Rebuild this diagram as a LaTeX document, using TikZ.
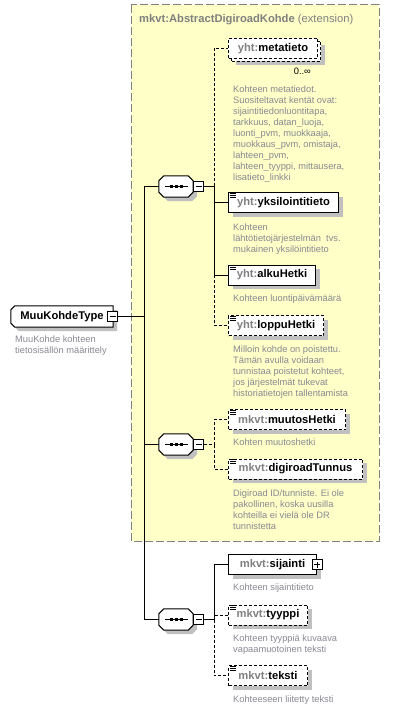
\documentclass[tikz,border=0pt]{standalone}
\usepackage{fontspec}
\setmainfont{Liberation Sans}
\usetikzlibrary{positioning}
\usetikzlibrary{shadows}

\pgfdeclarelayer{bg}
\pgfdeclarelayer{frames}
\pgfsetlayers{bg,frames,main}

\definecolor{extfill}{RGB}{255,255,200}
\definecolor{extline}{RGB}{128,128,128}
\definecolor{pfxgray}{RGB}{128,128,128}
\definecolor{docgray}{RGB}{136,136,146}
\definecolor{shadowgray}{RGB}{192,192,192}

\newcommand{\namefont}{\fontsize{11.2}{13}\selectfont\bfseries}
\newcommand{\docfont}{\fontsize{9.3}{11}\selectfont}
\newcommand{\pfx}[1]{{\color{pfxgray}#1}}

\tikzstyle{boxshadow} = [drop shadow={shadow xshift=4pt, shadow yshift=-4pt, fill=shadowgray, opacity=1}]
\tikzstyle{elbox} = [draw, fill=white, anchor=west, line width=1pt, minimum height=20pt, inner xsep=6pt, inner ysep=0pt, font=\namefont]
\tikzstyle{elnode} = [elbox, boxshadow]
\tikzstyle{optbox} = [elbox, dash pattern=on 3pt off 2pt]
\tikzstyle{optnode} = [elnode, dash pattern=on 3pt off 2pt]
\tikzstyle{typenode} = [minimum width=102pt, minimum height=21pt, inner sep=0pt, font=\namefont]
\tikzstyle{seqnode} = [minimum width=34pt, minimum height=21pt, inner sep=0pt]
\tikzstyle{minusbox} = [draw, fill=white, line width=1pt, minimum size=10pt, inner sep=0pt,
  path picture={\draw[line width=0.8pt] ([xshift=2pt]path picture bounding box.west) -- ([xshift=-2pt]path picture bounding box.east);}]
\tikzstyle{plusbox} = [draw, fill=white, line width=1pt, minimum size=10pt, inner sep=0pt,
  path picture={\draw[line width=0.8pt] ([xshift=2pt]path picture bounding box.west) -- ([xshift=-2pt]path picture bounding box.east);
    \draw[line width=0.8pt] ([yshift=2pt]path picture bounding box.south) -- ([yshift=-2pt]path picture bounding box.north);}]
\tikzstyle{docnode} = [anchor=north west, inner sep=0pt, align=left, font=\docfont, text=docgray]
\tikzstyle{link} = [line width=1pt]
\tikzstyle{optlink} = [link, dash pattern=on 3pt off 2pt]

% outlines round a node, shifted by #2 (for the shadow)
\tikzset{
  seqoutline/.style 2 args={insert path={
    ([shift={(5+#2,#2)}]#1.north west) -- ([shift={(-5+#2,#2)}]#1.north east) --
    ([shift={(#2,5+#2)}]#1.north east) -- ([shift={(#2,-5+#2)}]#1.south east) --
    ([shift={(-5+#2,#2)}]#1.south east) -- ([shift={(5+#2,#2)}]#1.south west) --
    ([shift={(#2,-5+#2)}]#1.south west) -- ([shift={(#2,5+#2)}]#1.north west) -- cycle}},
  typeoutline/.style 2 args={insert path={
    ([shift={(4+#2,#2)}]#1.north west) -- ([shift={(#2,#2)}]#1.north east) --
    ([shift={(#2,#2)}]#1.south east) -- ([shift={(4+#2,#2)}]#1.south west) --
    ([shift={(#2,-4+#2)}]#1.south west) -- ([shift={(#2,4+#2)}]#1.north west) -- cycle}},
}

\begin{document}
\begin{tikzpicture}[x=1pt, y=-1pt]
  \useasboundingbox (0,0) rectangle (403,708);

  % extension base
  \begin{pgfonlayer}{bg}
    \draw[extline, fill=extfill, line width=1pt, dash pattern=on 8pt off 3pt] (131,5) rectangle (379,541);
  \end{pgfonlayer}
  \node[anchor=base west, inner sep=0pt, font=\namefont, text=pfxgray] (exttitle) at (139,23) {mkvt:AbstractDigiroadKohde \textmd{(extension)}};

  % type
  \node[typenode] (muu) at (62,316.5) {MuuKohdeType\hspace{10pt}};
  \begin{pgfonlayer}{frames}
    \fill[shadowgray, typeoutline={muu}{4}];
    \draw[line width=1pt, fill=white, typeoutline={muu}{0}];
  \end{pgfonlayer}
  \node[minusbox] (muum) at ([xshift=-0.5pt]muu.east) {};
  \node[docnode] (muudoc) at (15,335.2) {MuuKohde kohteen\\tietosisällön määrittely};

  % sequences
  \node[seqnode] (seqa) at (176,186.5) {};
  \node[minusbox, right=0pt of seqa] (seqam) {};
  \node[seqnode] (seqb) at (176,444.5) {};
  \node[minusbox, right=0pt of seqb] (seqbm) {};
  \node[seqnode] (seqc) at (176,619.5) {};
  \node[minusbox, right=0pt of seqc] (seqcm) {};
  \foreach \s in {seqa,seqb,seqc} {
    \begin{pgfonlayer}{frames}
      \fill[shadowgray, seqoutline={\s}{4}];
      \draw[line width=1pt, fill=white, seqoutline={\s}{0}];
    \end{pgfonlayer}
    \draw[link] ([xshift=6pt]\s.west) -- ([xshift=-5pt]\s.east);
    \foreach \d in {-5,0,5}
      \fill ([shift={(\d-1.5,-1.5)}]\s.center) rectangle ++(3,3);
  }

  % elements of the first sequence
  \node[optnode, minimum width=89pt] (metab) at (231,51.5) {\phantom{\pfx{yht:}metatieto}};
  \node[optbox, minimum width=89pt] (meta) at (228,48.5) {\pfx{yht:}metatieto};
  \node[anchor=base east, inner sep=0pt, font=\docfont] (metaocc) at (311,75) {0..∞};
  \node[docnode] (metadoc) at (233,85.2) {Kohteen metatiedot.\\Suositeltavat kentät ovat:\\sijaintitiedonluontitapa,\\tarkkuus, datan\_luoja,\\luonti\_pvm, muokkaaja,\\muokkaus\_pvm, omistaja,\\lahteen\_pvm,\\lahteen\_tyyppi, mittausera,\\lisatieto\_linkki};

  \node[elnode, minimum width=110pt] (yks) at (228,203) {\pfx{yht:}yksilointitieto};
  \node[docnode] (yksdoc) at (233,223.2) {Kohteen\\lähtötietojärjestelmän~ tvs.\\mukainen yksilöintitieto};

  \node[elnode, minimum width=87pt] (alku) at (228,275) {\pfx{yht:}alkuHetki};
  \node[docnode] (alkudoc) at (233,294.2) {Kohteen luontipäivämäärä};

  \node[optnode, minimum width=95pt] (loppu) at (228,325.5) {\pfx{yht:}loppuHetki};
  \node[docnode] (loppudoc) at (233,345.2) {Milloin kohde on poistettu.\\Tämän avulla voidaan\\tunnistaa poistetut kohteet,\\jos järjestelmät tukevat\\historiatietojen tallentamista};

  % elements of the second sequence
  \node[optnode, minimum width=117pt] (muutos) at (228,419.5) {\pfx{mkvt:}muutosHetki};
  \node[docnode] (muutosdoc) at (233,438.2) {Kohten muutoshetki};

  \node[optnode, minimum width=134pt] (digi) at (228,469) {\pfx{mkvt:}digiroadTunnus};
  \node[docnode] (digidoc) at (233,489.2) {Digiroad ID/tunniste. Ei ole\\pakollinen, koska uusilla\\kohteilla ei vielä ole DR\\tunnistetta};

  % elements of the third sequence
  \node[elnode, minimum width=88pt] (sij) at (228,564.5) {\pfx{mkvt:}sijainti\hspace{6pt}};
  \node[plusbox] (sijp) at (sij.east) {};
  \node[docnode] (sijdoc) at (233,583.2) {Kohteen sijaintitieto};

  \node[optnode, minimum width=79pt] (tyyppi) at (228,615) {\pfx{mkvt:}tyyppi};
  \node[docnode] (tyyppidoc) at (233,634.2) {Kohteen tyyppiä kuvaava\\vapaamuotoinen teksti};

  \node[optnode, minimum width=79pt] (teksti) at (228,675.5) {\pfx{mkvt:}teksti};
  \node[docnode] (tekstidoc) at (233,695.2) {Kohteeseen liitetty teksti};

  % documentation marks
  \foreach \n in {yks,alku,loppu,muutos,digi,tyyppi,teksti}
    \foreach \d in {1,3,5}
      \draw[line width=0.8pt] ([shift={(2,\d)}]\n.north west) -- ++(6,0);

  % connectors
  \coordinate (trunk) at (144,316.5);
  \draw[link] (muum.east) -- (trunk);
  \draw[link] (trunk) |- (seqa.west);
  \draw[link] (trunk) |- (seqb.west);
  \draw[link] (trunk) |- (seqc.west);

  \coordinate[right=10pt of seqam] (ja);
  \draw[link] (seqam.east) -- (ja);
  \draw[optlink] (ja) |- (meta.west);
  \draw[link] (ja) |- (yks.west);
  \draw[link] (ja) |- (alku.west);
  \draw[optlink] (alku.west -| ja) |- (loppu.west);

  \coordinate[right=10pt of seqbm] (jb);
  \draw[optlink] (seqbm.east) -- (jb);
  \draw[optlink] (jb) |- (muutos.west);
  \draw[optlink] (jb) |- (digi.west);

  \coordinate[right=10pt of seqcm] (jc);
  \draw[link] (seqcm.east) -- (jc);
  \draw[link] (jc) |- (sij.west);
  \draw[optlink] (jc) |- (tyyppi.west);
  \draw[optlink] (jc) |- (teksti.west);
\end{tikzpicture}
\end{document}
